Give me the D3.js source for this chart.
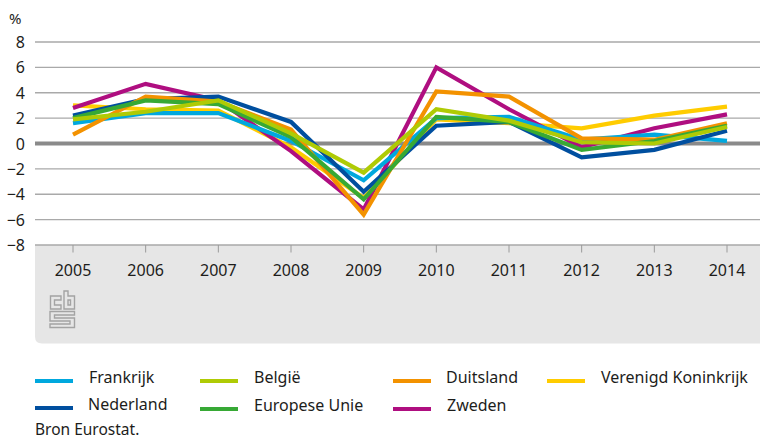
<!DOCTYPE html>
<html><head><meta charset="utf-8">
<script src="https://cdn.jsdelivr.net/npm/d3@7"></script>
<style>html,body{margin:0;padding:0;background:#fff}svg{display:block}text{font-family:"Noto Sans",sans-serif;fill:#1d1d1b}</style>
</head><body><svg id="c" width="760" height="440"></svg>
<script>
const years=[2005,2006,2007,2008,2009,2010,2011,2012,2013,2014];
const yTicks=[8,6,4,2,0,-2,-4,-6,-8];
const frankrijk=[1.6,2.4,2.4,0.2,-2.9,2.0,2.1,0.3,0.7,0.2];
const nederland=[2.2,3.5,3.7,1.7,-3.8,1.4,1.7,-1.1,-0.5,1.0];
const belgie=[1.9,2.5,3.4,0.8,-2.3,2.7,1.8,0.1,0.0,1.3];
const europeseUnie=[2.0,3.4,3.1,0.5,-4.4,2.1,1.7,-0.5,0.2,1.4];
const duitsland=[0.7,3.7,3.3,1.1,-5.6,4.1,3.7,0.4,0.3,1.6];
const verenigdKoninkrijk=[3.0,2.7,2.6,-0.3,-4.3,1.9,1.6,1.2,2.2,2.9];
const zweden=[2.8,4.7,3.4,-0.6,-5.2,6.0,2.7,-0.3,1.2,2.3];
const drawOrder=[
 [verenigdKoninkrijk,"#ffcc00"],[zweden,"#af0e80"],[frankrijk,"#00a8de"],
 [nederland,"#004f9f"],[duitsland,"#f39200"],[europeseUnie,"#37a935"],[belgie,"#afcb05"]];
const legend=[
 ["Frankrijk","#00a8de",35,381,89,383],["België","#afcb05",200,381,254,383],["Duitsland","#f39200",393,381,446,383],["Verenigd Koninkrijk","#ffcc00",547,381,601,383],
 ["Nederland","#004f9f",35,408,88,410],["Europese Unie","#37a935",200,409,254,411],["Zweden","#af0e80",393,409,447,411]];

const svg=d3.select("#c");
const x=d3.scalePoint().domain(years).range([73,727]);
const y=d3.scaleLinear().domain([-8,8]).range([245,42]);

svg.append("path").attr("fill","#e6e6e6")
 .attr("d","M35,245H760V343.5H42Q35,343.5 35,336.5Z");

svg.append("g").selectAll("line").data(yTicks.filter(d=>d!==0)).join("line")
 .attr("x1",35).attr("x2",760).attr("y1",d=>y(d)).attr("y2",d=>y(d))
 .attr("stroke","#a9a9a9").attr("stroke-width",1.3);

svg.append("g").selectAll("line").data(years).join("line")
 .attr("x1",d=>x(d)).attr("x2",d=>x(d)).attr("y1",245).attr("y2",252.5)
 .attr("stroke","#9a9a9a").attr("stroke-width",1);

svg.append("g").selectAll("text").data(yTicks).join("text")
 .attr("x",25).attr("y",d=>y(d)+6).attr("text-anchor","end").attr("font-size",16)
 .text(d=>d<0?"\u2212"+(-d):d);
svg.append("text").attr("x",9).attr("y",24).attr("font-size",15).text("%");

svg.append("g").selectAll("text").data(years).join("text")
 .attr("x",d=>x(d)).attr("y",275.5).attr("text-anchor","middle").attr("font-size",16).text(d=>d);

svg.append("line").attr("x1",35).attr("x2",760).attr("y1",y(0)).attr("y2",y(0))
 .attr("stroke","#8a8a8a").attr("stroke-width",4);

const line=d3.line().x((d,i)=>x(years[i])).y(d=>y(d));
svg.append("g").selectAll("path").data(drawOrder).join("path")
 .attr("d",d=>line(d[0])).attr("fill","none").attr("stroke",d=>d[1])
 .attr("stroke-width",4.2).attr("stroke-linejoin","miter");

const lg=svg.append("g").selectAll("g").data(legend).join("g");
lg.append("line").attr("x1",d=>d[2]).attr("x2",d=>d[2]+38).attr("y1",d=>d[3]).attr("y2",d=>d[3])
 .attr("stroke",d=>d[1]).attr("stroke-width",4);
lg.append("text").attr("x",d=>d[4]).attr("y",d=>d[5]).attr("font-size",16).text(d=>d[0]);
svg.append("text").attr("x",35).attr("y",435.3).attr("font-size",15.5).text("Bron Eurostat.");

// CBS mark
const logo=svg.append("g").attr("fill","none").attr("stroke","#a3a3a3").attr("stroke-width",1.4);
logo.append("path").attr("d","M61,296H50.5V309H61V305H54.5V300H61Z");
logo.append("path").attr("d","M64,291V309H74.5V296H68V291ZM68,300H70.5V305H68Z");
logo.append("path").attr("d","M74.5,311.5H50V321H70V324H50V327.5H74.5V318H54.5V315H74.5Z");
</script></body></html>
